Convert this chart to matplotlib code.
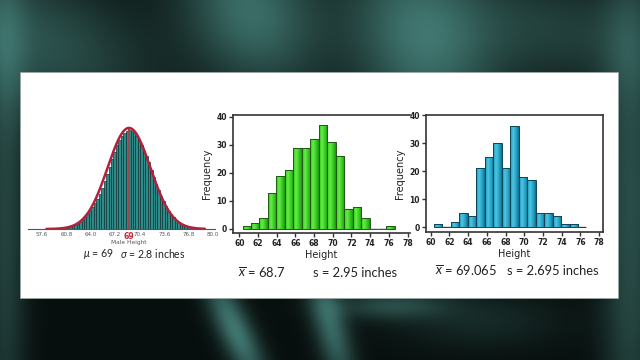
import numpy as np
import matplotlib
matplotlib.use("Agg")
import matplotlib.pyplot as plt
from matplotlib.patches import Rectangle
from matplotlib.colors import LinearSegmentedColormap

# ---------------- data ----------------
# Panel 1: population histogram (relative heights) with normal curve
pop_mu = 69.0
pop_sigma = 2.8
pop_bin_start = 59.6
pop_bin_width = 0.32
pop_heights = [0, 1, 1, 1, 2, 2, 3, 4, 5, 7, 9, 12, 15, 18, 22, 26, 30, 35, 41, 48,
               56, 63, 71, 78, 85, 90, 94, 97, 99, 100, 99, 97, 94, 90, 85, 79, 74,
               68, 60, 52, 45, 39, 33, 28, 23, 18, 15, 12, 9, 7, 5, 4, 3, 2, 2, 1, 1, 0]
pop_ticks = [57.6, 60.8, 64.0, 67.2, 70.4, 73.6, 76.8, 80.0]

# Panel 2 and 3: sample histograms
hist_bin_start = 60.35
hist_bin_width = 0.9056
sample1_counts = [1, 2, 4, 13, 19, 21, 29, 29, 32, 37, 31, 26, 7, 8, 4, 0, 0, 1]
sample2_counts = [1, 0, 2, 5, 4, 21, 25, 30, 21, 36, 18, 17, 5, 5, 4, 1, 1, 0]
sample1_mean, sample1_sd = "68.7", "2.95"
sample2_mean, sample2_sd = "69.065", "2.695"
hist_xticks = list(range(60, 80, 2))
hist_yticks = [0, 10, 20, 30, 40]

# ---------------- figure ----------------
W, H = 640, 360
fig = plt.figure(figsize=(6.4, 3.6), dpi=100)

plt.rcParams['mathtext.fontset'] = 'custom'
plt.rcParams['mathtext.it'] = 'Lato:italic'
plt.rcParams['mathtext.rm'] = 'Lato'

# background decoration
bg = fig.add_axes([0, 0, 1, 1])
yy, xx = np.mgrid[0:H, 0:W].astype(float)
img = np.zeros((H, W, 3))
img[:] = [0.03, 0.06, 0.055]

def streak(cx, cy, ang, su, sv, amp, col):
    a = np.deg2rad(ang)
    u = (xx - cx) * np.cos(a) + (yy - cy) * np.sin(a)
    v = -(xx - cx) * np.sin(a) + (yy - cy) * np.cos(a)
    g = amp * np.exp(-0.5 * (u / su) ** 2 - 0.5 * (v / sv) ** 2)
    img[...] += g[..., None] * np.array(col)

teal = [0.22, 0.40, 0.38]
streak(30, 40, 20, 90, 50, 0.65, teal)
streak(250, 10, 60, 60, 45, 0.9, teal)
streak(420, 40, 70, 70, 50, 0.9, teal)
streak(560, 30, 10, 90, 40, 0.45, teal)
streak(630, 200, 90, 200, 20, 0.6, teal)
streak(5, 200, 90, 200, 15, 0.5, teal)
streak(235, 330, 65, 45, 12, 1.0, teal)
streak(330, 325, 75, 45, 12, 0.85, teal)
streak(390, 305, 0, 40, 10, 0.55, teal)
streak(480, 320, 0, 60, 20, 0.25, teal)
img = np.clip(img, 0, 1)
bg.imshow(img, extent=[0, W, H, 0], aspect='auto')
bg.set_xlim(0, W)
bg.set_ylim(H, 0)
bg.axis('off')
bg.add_patch(Rectangle((20, 72), 598, 226, facecolor='white', edgecolor='#9aa6a4', lw=0.6))


def px_axes(x0, y0, x1, y1):
    return fig.add_axes([x0 / W, 1 - y1 / H, (x1 - x0) / W, (y1 - y0) / H])


def ftext(x, y, s, **kw):
    kw.setdefault('ha', 'left')
    kw.setdefault('va', 'center')
    fig.text(x / W, 1 - y / H, s, **kw)


# ---------------- panel 1 ----------------
ax1 = px_axes(28, 118, 215.5, 229)
ax1.patch.set_alpha(0)
lefts = pop_bin_start + pop_bin_width * np.arange(len(pop_heights))
ax1.bar(lefts, pop_heights, width=pop_bin_width, align='edge',
        facecolor='#2f8a8a', edgecolor='#0f3232', linewidth=0.5, zorder=2)
xc = np.linspace(58.2, 78.9, 300)
curve = 102 * np.exp(-0.5 * ((xc - pop_mu) / pop_sigma) ** 2)
ax1.plot(xc, curve, color='#b3203a', lw=1.8, zorder=4, solid_capstyle='round')
ax1.plot([pop_mu, pop_mu], [0, 101], color='#8c4c50', lw=1.6, zorder=3)
ax1.set_xlim(55.8, 80.3)
ax1.set_ylim(0, 112)
for s in ['left', 'right', 'top']:
    ax1.spines[s].set_visible(False)
ax1.spines['bottom'].set_color('#555555')
ax1.spines['bottom'].set_linewidth(0.8)
ax1.set_yticks([])
ax1.set_xticks(pop_ticks)
ax1.set_xticklabels([f"{t:.1f}" for t in pop_ticks])
ax1.tick_params(axis='x', length=0, pad=2, labelsize=4.0, labelcolor='#555555')
ax1.annotate(f"{pop_mu:g}", xy=(pop_mu, 0), xycoords='data', xytext=(0, -5.3),
             textcoords='offset points', ha='center', va='center',
             color='#c0283c', fontsize=5.6, fontweight='bold')
ax1.annotate("Male Height", xy=(pop_mu, 0), xycoords='data', xytext=(0, -9.5),
             textcoords='offset points', ha='center', va='center',
             color='#555555', fontsize=4.2)
ftext(83, 254, r"$\mu$ = " + f"{pop_mu:g}", fontsize=7.6, color='#222222', family='Lato')
ftext(120, 254, r"$\sigma$ = " + f"{pop_sigma:g} inches", fontsize=7.6, color='#222222', family='Lato')


# ---------------- panels 2, 3 ----------------
def grad_hist(ax, counts, cmap, edge, empty_col):
    lefts = hist_bin_start + hist_bin_width * np.arange(len(counts))
    bars = ax.bar(lefts, counts, width=hist_bin_width, align='edge',
                  facecolor='none', edgecolor=edge, linewidth=0.7, zorder=3)
    grad = np.linspace(0, 1, 64).reshape(1, -1)
    for b, c in zip(bars, counts):
        x0, w, h = b.get_x(), b.get_width(), b.get_height()
        if c <= 0:
            ax.add_patch(Rectangle((x0, 0), w, 0.35, facecolor=empty_col,
                                   edgecolor='none', zorder=2))
            continue
        im = ax.imshow(grad, cmap=cmap, extent=[x0, x0 + w, 0, h],
                       aspect='auto', zorder=2, interpolation='bilinear')
        im.set_clip_path(b)


def style_hist(ax, xlim, ylim, right_spine):
    ax.set_xlim(*xlim)
    ax.set_ylim(*ylim)
    ax.set_xticks(hist_xticks)
    ax.set_yticks(hist_yticks)
    for s in ax.spines.values():
        s.set_color('#333333')
        s.set_linewidth(1.2)
    ax.spines['right'].set_visible(right_spine)
    ax.tick_params(direction='out', length=3, width=1, color='#333333',
                   labelsize=5.5, pad=1.5)
    for lab in ax.get_xticklabels() + ax.get_yticklabels():
        lab.set_fontweight('bold')
        lab.set_color('#222222')
    ax.set_xlabel("Height", fontsize=7, labelpad=1, color='#222222')
    ax.set_ylabel("Frequency", fontsize=7, labelpad=3, color='#222222')


green = LinearSegmentedColormap.from_list('g', ['#2fbf1f', '#66ee44', '#3ccc26', '#1c9412'])
blue = LinearSegmentedColormap.from_list('b', ['#1c8fb0', '#4cc6e4', '#2aa6c8', '#0e6f8e'])

ax2 = px_axes(233, 115, 410, 233)
ax2.patch.set_alpha(0)
grad_hist(ax2, sample1_counts, green, '#1f5a14', '#d8d8d8')
style_hist(ax2, (59.33, 78.26), (-1.43, 40.7), False)

ax3 = px_axes(426, 115, 603, 232)
ax3.patch.set_alpha(0)
grad_hist(ax3, sample2_counts, blue, '#0d4556', '#d8d8d8')
style_hist(ax3, (59.5, 78.42), (-1.7, 40.1), True)

ftext(238, 273, r"$\overline{x}$ = " + sample1_mean, fontsize=9.3, color='#222222', family='Lato')
ftext(313, 273, f"s = {sample1_sd} inches", fontsize=9.3, color='#222222', family='Lato')
ftext(435, 271, r"$\overline{x}$ = " + sample2_mean, fontsize=9.3, color='#222222', family='Lato')
ftext(507, 271, f"s = {sample2_sd} inches", fontsize=9.3, color='#222222', family='Lato')

fig.savefig("out.png", dpi=100)
